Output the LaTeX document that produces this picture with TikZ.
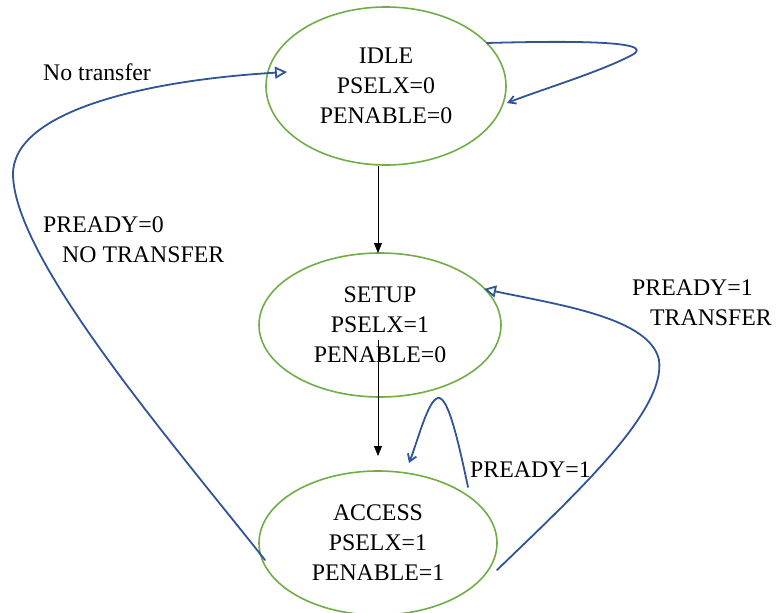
\documentclass[tikz,border=0pt]{standalone}
\usepackage{fontspec}
\setmainfont{Liberation Serif}
\usetikzlibrary{shapes.geometric,arrows.meta}
\begin{document}
\begin{tikzpicture}[x=1pt,y=-1pt,
  state/.style={ellipse,draw=stategreen,line width=1.6pt,inner sep=0pt,
    minimum width=240pt,minimum height=158pt,align=center,
    font=\fontsize{23.8}{30}\selectfont},
  lbl/.style={font=\fontsize{23.8}{30}\selectfont,inner sep=0pt,align=left},
  flow/.style={draw=black,line width=0.8pt,-{Triangle[length=10pt,width=8pt]}},
  trans/.style={draw=transblue,line width=1.8pt,line cap=round,line join=round}]
\definecolor{stategreen}{RGB}{112,173,71}
\definecolor{transblue}{RGB}{47,85,151}
\useasboundingbox (0,0) rectangle (777,613);
\node[state] (idle) at (386,86) {IDLE\\PSELX=0\\PENABLE=0};
\node[state,minimum width=242pt,minimum height=144pt] (setup) at (380,325) {SETUP\\PSELX=1\\PENABLE=0};
\node[state,minimum width=238pt,minimum height=144pt] (access) at (378,543) {ACCESS\\PSELX=1\\PENABLE=1};
% vertical arrows
\coordinate (s1) at (378,253);
\coordinate (a0) at (378,340);
\coordinate (a1) at (378,456);
\draw[flow] (idle.south -| s1) -- (s1);
\draw[flow] (a0) -- (a1);
% idle self loop
\coordinate (il0) at (487,43);
\coordinate (il1) at (507,103);
\draw[trans,-{Straight Barb[length=7pt,width=8pt]}] (il0) .. controls (560,41) and (660,40) .. (632,55) .. controls (600,72) and (540,90) .. (il1);
% access -> idle
\coordinate (ai0) at (265,560);
\coordinate (ai1) at (287,72);
\draw[trans,-{Triangle[open,length=12pt,width=12pt]}] (ai0) .. controls (170,440) and (15,260) .. (13,175) .. controls (12,110) and (150,80) .. (ai1);
% access -> setup
\coordinate (as0) at (497,570);
\coordinate (as1) at (484,289);
\draw[trans,-{Triangle[open,length=12pt,width=12pt]}] (as0) .. controls (580,490) and (666,410) .. (659,360) .. controls (650,318) and (560,305) .. (as1);
% access self loop
\coordinate (al0) at (468,487);
\coordinate (al1) at (409,463);
\draw[trans,-{Straight Barb[length=7pt,width=9pt]}] (al0) .. controls (458,440) and (448,396) .. (438,398) .. controls (428,400) and (418,440) .. (al1);
% labels
\node[lbl,anchor=west] (l1) at (43,72) {No transfer};
\node[lbl,anchor=west] (l2) at (43,225) {PREADY=0};
\node[lbl,anchor=west] (l3) at (62,255) {NO TRANSFER};
\node[lbl,anchor=west] (l4) at (632,288) {PREADY=1};
\node[lbl,anchor=west] (l5) at (650,318) {TRANSFER};
\node[lbl,anchor=west] (l6) at (470,470) {PREADY=1};
\end{tikzpicture}
\end{document}
